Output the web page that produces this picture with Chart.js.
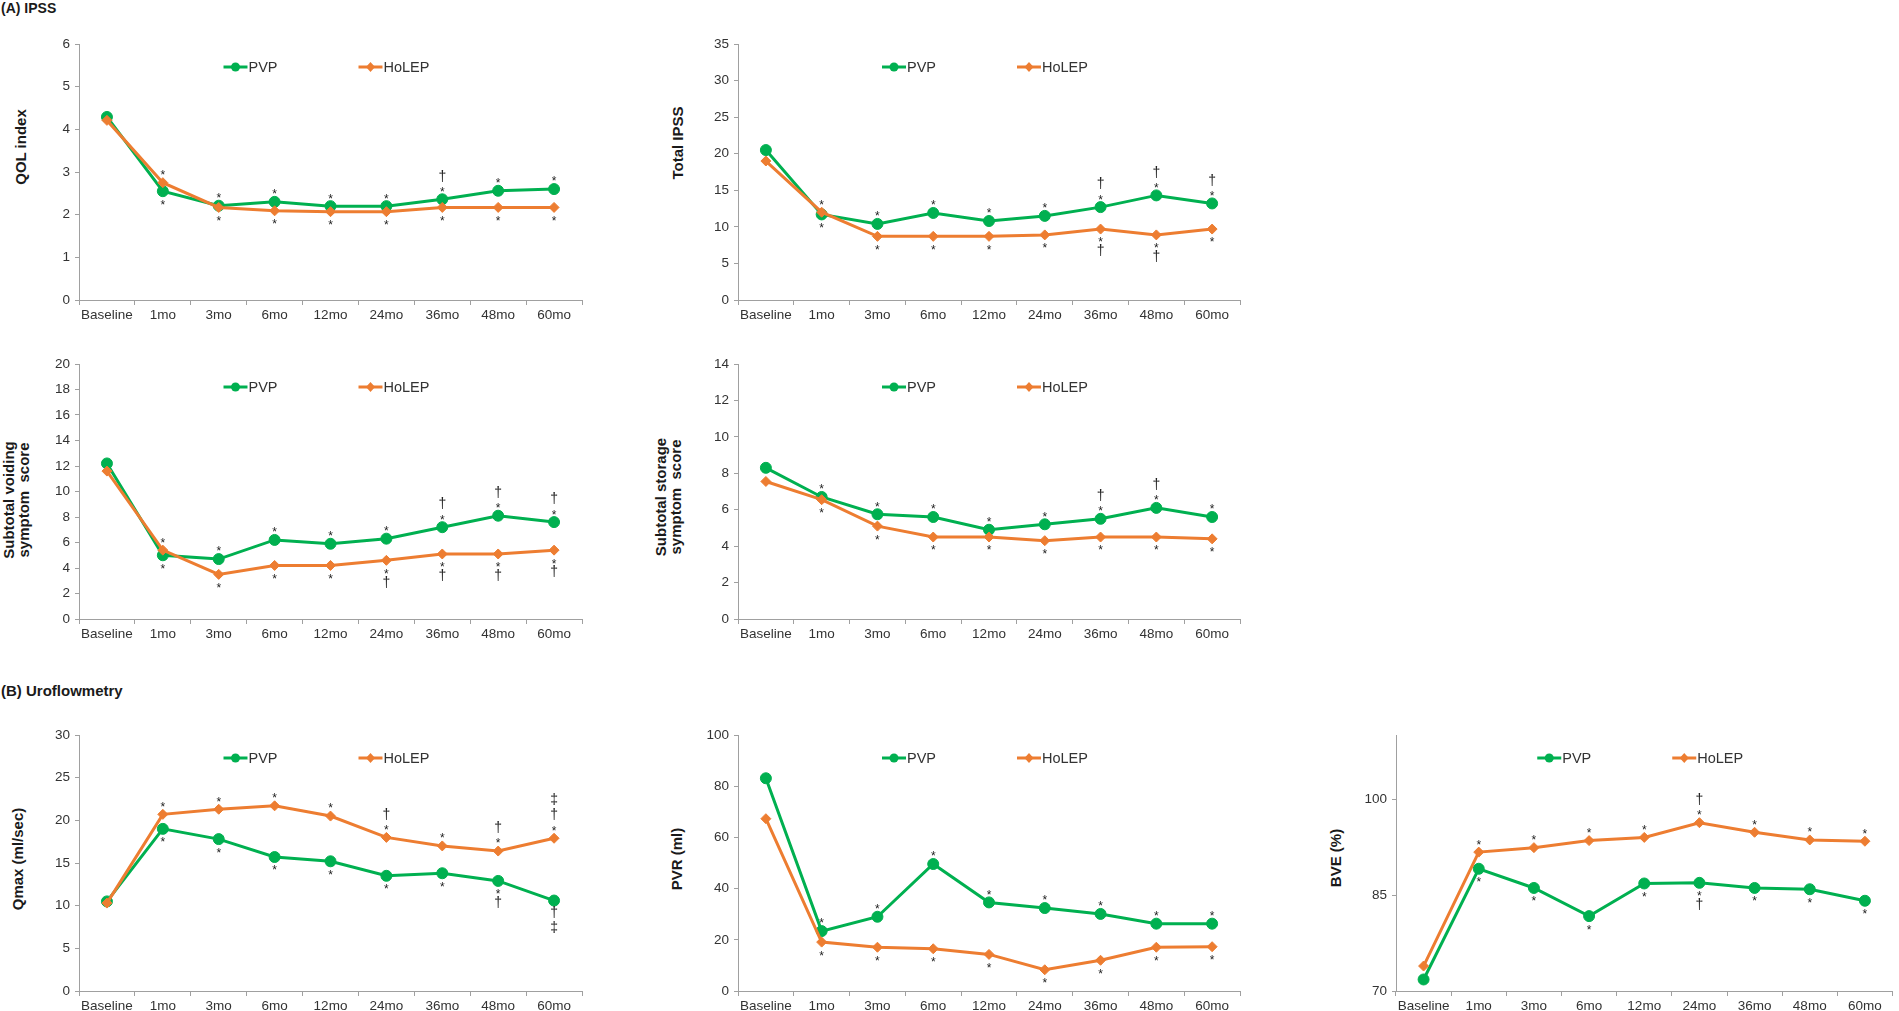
<!DOCTYPE html>
<html>
<head>
<meta charset="utf-8">
<script src="https://cdn.jsdelivr.net/npm/chart.js"></script>
<style>
  html, body { margin: 0; padding: 0; background: #fff; }
  body { width: 1899px; height: 1011px; position: relative; overflow: hidden;
         font-family: 'Liberation Sans', Arial, sans-serif; }
  canvas { position: absolute; }
  .sec { position: absolute; font-weight: bold; color: #1a1a1a; white-space: nowrap; line-height: 1; }
  .yt { position: absolute; font-weight: bold; font-size: 15px; line-height: 15px; color: #1a1a1a;
        white-space: pre; text-align: center; transform: translate(-50%, -50%) rotate(-90deg); }
</style>
</head>
<body>

<div class="sec" style="left:1px;top:1px;font-size:14px;">(A) IPSS</div>
<div class="sec" style="left:1px;top:683px;font-size:15px;">(B) Uroflowmetry</div>

<div class="yt" style="left:20px;top:147px;">QOL index</div>
<div class="yt" style="left:677px;top:143px;">Total IPSS</div>
<div class="yt" style="left:16px;top:500px;">Subtotal voiding
symptom  score</div>
<div class="yt" style="left:668px;top:497px;">Subtotal storage
symptom  score</div>
<div class="yt" style="left:17px;top:859px;">Qmax (ml/sec)</div>
<div class="yt" style="left:676px;top:859px;">PVR (ml)</div>
<div class="yt" style="left:1335px;top:858px;">BVE (%)</div>

<canvas id="qol"></canvas>
<canvas id="ipss"></canvas>
<canvas id="voiding"></canvas>
<canvas id="storage"></canvas>
<canvas id="qmax"></canvas>
<canvas id="pvr"></canvas>
<canvas id="bve"></canvas>

<script>
// follow-up time points
var timeLabels = ['Baseline', '1mo', '3mo', '6mo', '12mo', '24mo', '36mo', '48mo', '60mo'];

// (A) IPSS - QOL index
var qolPVP   = [4.29, 2.55, 2.21, 2.30, 2.20, 2.20, 2.36, 2.56, 2.60];
var qolHoLEP = [4.21, 2.75, 2.17, 2.09, 2.07, 2.07, 2.17, 2.17, 2.17];
var qolTicks = [0, 1, 2, 3, 4, 5, 6];

// Total IPSS
var ipssPVP   = [20.5, 11.7, 10.4, 11.9, 10.8, 11.5, 12.7, 14.3, 13.2];
var ipssHoLEP = [19.0, 12.0, 8.7, 8.7, 8.7, 8.9, 9.7, 8.9, 9.7];
var ipssTicks = [0, 5, 10, 15, 20, 25, 30, 35];

// Subtotal voiding symptom score
var voidPVP   = [12.2, 5.0, 4.7, 6.2, 5.9, 6.3, 7.2, 8.1, 7.6];
var voidHoLEP = [11.6, 5.4, 3.5, 4.2, 4.2, 4.6, 5.1, 5.1, 5.4];
var voidTicks = [0, 2, 4, 6, 8, 10, 12, 14, 16, 18, 20];

// Subtotal storage symptom score
var storPVP   = [8.3, 6.7, 5.75, 5.6, 4.9, 5.2, 5.5, 6.1, 5.6];
var storHoLEP = [7.55, 6.55, 5.1, 4.5, 4.5, 4.3, 4.5, 4.5, 4.4];
var storTicks = [0, 2, 4, 6, 8, 10, 12, 14];

// (B) Uroflowmetry - Qmax
var qmaxPVP   = [10.5, 19.0, 17.8, 15.7, 15.2, 13.5, 13.8, 12.9, 10.6];
var qmaxHoLEP = [10.3, 20.7, 21.3, 21.7, 20.5, 18.0, 17.0, 16.4, 17.9];
var qmaxTicks = [0, 5, 10, 15, 20, 25, 30];

// PVR
var pvrPVP   = [83.1, 23.4, 29.0, 49.6, 34.6, 32.4, 30.1, 26.3, 26.3];
var pvrHoLEP = [67.3, 19.1, 17.1, 16.5, 14.3, 8.3, 12.0, 17.1, 17.3];
var pvrTicks = [0, 20, 40, 60, 80, 100];

// BVE
var bvePVP   = [71.8, 89.1, 86.1, 81.7, 86.8, 86.9, 86.1, 85.9, 84.1];
var bveHoLEP = [73.9, 91.7, 92.4, 93.5, 94.0, 96.3, 94.8, 93.6, 93.4];
var bveTicks = [70, 85, 100];

// significance marks, nearest to the point first
var none = ['', '', '', '', '', '', '', '', ''];
var qolPVPUp     = ['', '', '*', '*', '*', '*', '*†', '*', '*'];
var qolPVPDown   = ['', '*', '', '', '', '', '', '', ''];
var qolHoLEPUp   = ['', '*', '', '', '', '', '', '', ''];
var qolHoLEPDown = ['', '', '*', '*', '*', '*', '*', '*', '*'];

var ipssPVPUp     = ['', '', '*', '*', '*', '*', '*†', '*†', '*†'];
var ipssPVPDown   = ['', '*', '', '', '', '', '', '', ''];
var ipssHoLEPUp   = ['', '*', '', '', '', '', '', '', ''];
var ipssHoLEPDown = ['', '', '*', '*', '*', '*', '*†', '*†', '*'];

var voidPVPUp     = ['', '', '*', '*', '*', '*', '*†', '*†', '*†'];
var voidPVPDown   = ['', '*', '', '', '', '', '', '', ''];
var voidHoLEPUp   = ['', '*', '', '', '', '', '', '', ''];
var voidHoLEPDown = ['', '', '*', '*', '*', '*†', '*†', '*†', '*†'];

var storPVPUp     = ['', '*', '*', '*', '*', '*', '*†', '*†', '*'];
var storHoLEPDown = ['', '*', '*', '*', '*', '*', '*', '*', '*'];

var qmaxPVPDown = ['', '*', '*', '*', '*', '*', '*', '*†', '†‡'];
var qmaxHoLEPUp = ['', '*', '*', '*', '*', '*†', '*', '*†', '*†‡'];

var pvrPVPUp     = ['', '*', '*', '*', '*', '*', '*', '*', '*'];
var pvrHoLEPDown = ['', '*', '*', '*', '*', '*', '*', '*', '*'];

var bvePVPDown = ['', '*', '*', '*', '*', '*†', '*', '*', '*'];
var bveHoLEPUp = ['', '*', '*', '*', '*', '*†', '*', '*', '*'];

var GREEN = '#00B050';
var ORANGE = '#ED7D31';
var AXIS = '#a0a0a0';
var TXT = '#333333';

// the original uses a condensed face; fall back to a smaller regular one if absent
function hasFont(name) {
  var c = document.createElement('canvas').getContext('2d');
  c.font = '20px monospace';
  var a = c.measureText('Baseline 12mo').width;
  c.font = "20px '" + name + "', monospace";
  var b = c.measureText('Baseline 12mo').width;
  return a !== b;
}
var narrowOK = hasFont('Liberation Sans Narrow') || hasFont('Arial Narrow');
var NARROW = "'Liberation Sans Narrow', 'Arial Narrow', 'Liberation Sans', Arial, sans-serif";
var TICK_SIZE = narrowOK ? 15 : 13.5;
var LEG_SIZE = narrowOK ? 16 : 14.5;
var XPAD = narrowOK ? 1 : 2;

// draws *, † and ‡ stacked above or below each point
function drawSym(ctx, x, cy, ch) {
  if (ch === '*') {
    ctx.font = "12px 'Liberation Sans', Arial, sans-serif";
    ctx.fillText(ch, x, cy + 6.9);
  } else {
    ctx.font = "14px 'Liberation Sans', Arial, sans-serif";
    ctx.fillText(ch, x, cy + 3.7);
  }
}
function stackMarks(ctx, x, y, s, dir) {
  if (!s) return;
  var off = 0;
  for (var k = 0; k < s.length; k++) {
    var ch = s[k];
    if (k === 0) off = (ch === '*') ? 10.5 : 13;
    else off += (ch === '‡') ? 15 : 12;
    drawSym(ctx, x, y + dir * off, ch);
  }
}
var marksPlugin = {
  id: 'sigMarks',
  afterDatasetsDraw: function (chart) {
    var ctx = chart.ctx;
    ctx.save();
    ctx.fillStyle = '#222';
    ctx.textAlign = 'center';
    ctx.textBaseline = 'alphabetic';
    chart.data.datasets.forEach(function (ds, di) {
      var meta = chart.getDatasetMeta(di);
      meta.data.forEach(function (pt, i) {
        if (ds.marksUp) stackMarks(ctx, pt.x, pt.y, ds.marksUp[i], -1);
        if (ds.marksDown) stackMarks(ctx, pt.x, pt.y, ds.marksDown[i], 1);
      });
    });
    ctx.restore();
  }
};

// Excel style legend (line + marker) sitting inside the plot area
var legendPlugin = {
  id: 'xlLegend',
  afterDraw: function (chart, args, opts) {
    var ctx = chart.ctx, area = chart.chartArea;
    var cx = (area.left + area.right) / 2;
    var y = area.top + 23;
    ctx.save();
    chart.data.datasets.forEach(function (ds, i) {
      var x0 = cx + opts.offsets[i];
      ctx.strokeStyle = ds.borderColor;
      ctx.fillStyle = ds.borderColor;
      ctx.lineWidth = 3;
      ctx.beginPath();
      ctx.moveTo(x0, y);
      ctx.lineTo(x0 + 24, y);
      ctx.stroke();
      ctx.beginPath();
      if (ds.pointStyle === 'circle') {
        ctx.arc(x0 + 12, y, 4.5, 0, Math.PI * 2);
      } else {
        ctx.moveTo(x0 + 12, y - 5);
        ctx.lineTo(x0 + 16.5, y);
        ctx.lineTo(x0 + 12, y + 5);
        ctx.lineTo(x0 + 7.5, y);
        ctx.closePath();
      }
      ctx.fill();
      ctx.fillStyle = TXT;
      ctx.font = LEG_SIZE + 'px ' + NARROW;
      ctx.textAlign = 'left';
      ctx.textBaseline = 'middle';
      ctx.fillText(ds.label, x0 + 25, y + 1);
    });
    ctx.restore();
  }
};

function makePanel(id, box, yMin, yMax, yTicks, pvp, holep, m) {
  var cv = document.getElementById(id);
  cv.width = box.w;
  cv.height = box.h;
  cv.style.left = box.left + 'px';
  cv.style.top = box.top + 'px';

  return new Chart(cv, {
    type: 'line',
    data: {
      labels: timeLabels,
      datasets: [{
        label: 'PVP',
        data: pvp,
        borderColor: GREEN,
        backgroundColor: GREEN,
        borderWidth: 3,
        pointStyle: 'circle',
        pointRadius: 5.5,
        pointHoverRadius: 5.5,
        pointBorderWidth: 1,
        tension: 0,
        order: 1,
        marksUp: m.pvpUp,
        marksDown: m.pvpDown
      }, {
        label: 'HoLEP',
        data: holep,
        borderColor: ORANGE,
        backgroundColor: ORANGE,
        borderWidth: 3,
        pointStyle: 'rectRot',
        pointRadius: 5,
        pointHoverRadius: 5,
        pointBorderWidth: 1,
        tension: 0,
        order: 0,
        marksUp: m.holepUp,
        marksDown: m.holepDown
      }]
    },
    options: {
      responsive: false,
      animation: false,
      events: [],
      layout: { padding: { left: 0, right: box.padRight, top: 14, bottom: 0 } },
      plugins: {
        legend: { display: false },
        tooltip: { enabled: false },
        xlLegend: { offsets: [-107, 28] }
      },
      scales: {
        x: {
          type: 'category',
          offset: true,
          grid: { display: true, drawOnChartArea: false, drawTicks: true, tickLength: 5,
                  offset: true, color: AXIS, lineWidth: 1 },
          border: { display: true, color: AXIS, width: 1 },
          ticks: { font: { family: NARROW, size: TICK_SIZE }, color: TXT, padding: XPAD,
                   autoSkip: false, maxRotation: 0 },
          afterFit: function (s) { s.height = 26; }
        },
        y: {
          min: yMin,
          max: yMax,
          afterBuildTicks: function (s) { s.ticks = yTicks.map(function (v) { return { value: v }; }); },
          grid: { drawOnChartArea: false, drawTicks: true, tickLength: 4, color: AXIS },
          border: { display: true, color: AXIS, width: 1 },
          ticks: { font: { family: NARROW, size: TICK_SIZE }, color: TXT, padding: 5 },
          afterFit: function (s) { s.width = 60; }
        }
      }
    },
    plugins: [marksPlugin, legendPlugin]
  });
}

// panel boxes: plot areas start at x=79 / 738 / 1396
var leftCol = { left: 19, w: 581, padRight: 18 };
var midCol = { left: 678, w: 580, padRight: 18 };
var rightCol = { left: 1336, w: 563, padRight: 2 };
function box(col, top, h) { return { left: col.left, w: col.w, padRight: col.padRight, top: top, h: h }; }

makePanel('qol', box(leftCol, 30, 296), 0, 6, qolTicks, qolPVP, qolHoLEP,
  { pvpUp: qolPVPUp, pvpDown: qolPVPDown, holepUp: qolHoLEPUp, holepDown: qolHoLEPDown });
makePanel('ipss', box(midCol, 30, 296), 0, 35, ipssTicks, ipssPVP, ipssHoLEP,
  { pvpUp: ipssPVPUp, pvpDown: ipssPVPDown, holepUp: ipssHoLEPUp, holepDown: ipssHoLEPDown });
makePanel('voiding', box(leftCol, 350, 295), 0, 20, voidTicks, voidPVP, voidHoLEP,
  { pvpUp: voidPVPUp, pvpDown: voidPVPDown, holepUp: voidHoLEPUp, holepDown: voidHoLEPDown });
makePanel('storage', box(midCol, 350, 295), 0, 14, storTicks, storPVP, storHoLEP,
  { pvpUp: storPVPUp, pvpDown: none, holepUp: none, holepDown: storHoLEPDown });
makePanel('qmax', box(leftCol, 721, 296), 0, 30, qmaxTicks, qmaxPVP, qmaxHoLEP,
  { pvpUp: none, pvpDown: qmaxPVPDown, holepUp: qmaxHoLEPUp, holepDown: none });
makePanel('pvr', box(midCol, 721, 296), 0, 100, pvrTicks, pvrPVP, pvrHoLEP,
  { pvpUp: pvrPVPUp, pvpDown: none, holepUp: none, holepDown: pvrHoLEPDown });
makePanel('bve', box(rightCol, 721, 296), 70, 110, bveTicks, bvePVP, bveHoLEP,
  { pvpUp: none, pvpDown: bvePVPDown, holepUp: bveHoLEPUp, holepDown: none });
</script>
</body>
</html>
